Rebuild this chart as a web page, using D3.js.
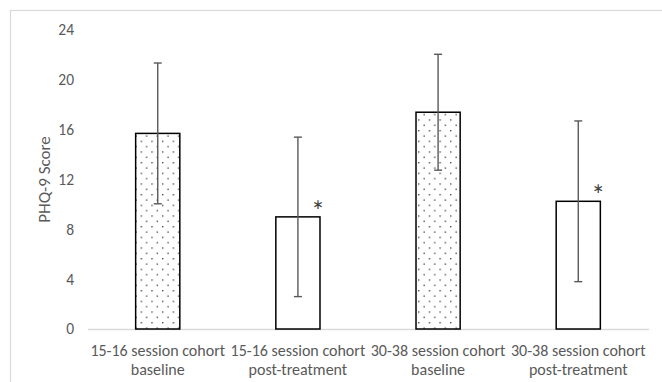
<!DOCTYPE html>
<html><head><meta charset="utf-8">
<script src="https://cdn.jsdelivr.net/npm/d3@7/dist/d3.min.js"></script>
<style>body{margin:0;background:#fff}svg{display:block}text{font-family:Carlito,Calibri,Lato,sans-serif}</style>
</head><body>
<svg id="c" width="662" height="382"></svg>
<script>
const categories = [["15-16 session cohort","baseline"],["15-16 session cohort","post-treatment"],["30-38 session cohort","baseline"],["30-38 session cohort","post-treatment"]];
const means = [15.7, 9.0, 17.4, 10.25];
const errors = [5.65, 6.4, 4.65, 6.45];
const dotted = [true, false, true, false];
const significant = [false, true, false, true];
const yTicks = [0,4,8,12,16,20,24];

const svg = d3.select("#c");
const W = 662, H = 382;
const m = {left: 88, right: 14, top: 30, bottom: 53};

svg.append("rect").attr("x",10.5).attr("y",10.5).attr("width",W).attr("height",H)
  .attr("fill","none").attr("stroke","#d9d9d9").attr("stroke-width",1.2);

const defs = svg.append("defs");
const pat = defs.append("pattern").attr("id","dots").attr("patternUnits","userSpaceOnUse")
  .attr("width",10.67).attr("height",10.67);
pat.append("rect").attr("width",10.67).attr("height",10.67).attr("fill","#fff");
pat.append("rect").attr("x",2).attr("y",2).attr("width",1.3).attr("height",1.3).attr("fill","#333");
pat.append("rect").attr("x",7.33).attr("y",7.33).attr("width",1.3).attr("height",1.3).attr("fill","#333");

const x = d3.scaleBand().domain(d3.range(categories.length)).range([m.left, W - m.right]).paddingInner(0.685).paddingOuter(0.34);
const y = d3.scaleLinear().domain([0,24]).range([H - m.bottom, m.top]);

// y tick labels
const ya = svg.append("g").attr("transform",`translate(${m.left-14},0)`)
  .call(d3.axisLeft(y).tickValues(yTicks).tickSize(0).tickPadding(0));
ya.select(".domain").remove();
ya.selectAll("text").attr("fill","#595959").style("font-size","15.5px").style("font-family","Carlito,Calibri,Lato,sans-serif");

// x axis line
svg.append("line").attr("x1",m.left).attr("x2",W-m.right+1).attr("y1",y(0)+0.5).attr("y2",y(0)+0.5)
  .attr("stroke","#d9d9d9").attr("stroke-width",1.5);

// bars
svg.selectAll(".bar").data(means).join("rect")
  .attr("x",(d,i)=>x(i)).attr("width",x.bandwidth())
  .attr("y",d=>y(d)).attr("height",d=>y(0)-y(d))
  .attr("fill",(d,i)=>dotted[i]?"url(#dots)":"#fff")
  .attr("stroke","#000").attr("stroke-width",1.5);

// error bars
const eg = svg.append("g").attr("stroke","#595959").attr("stroke-width",1.4);
means.forEach((d,i)=>{
  const cx = x(i)+x.bandwidth()/2;
  eg.append("line").attr("x1",cx).attr("x2",cx).attr("y1",y(d+errors[i])).attr("y2",y(d-errors[i]));
  [d+errors[i], d-errors[i]].forEach(v=>{
    eg.append("line").attr("x1",cx-4).attr("x2",cx+4).attr("y1",y(v)).attr("y2",y(v));
  });
});

// asterisks
svg.selectAll(".ast").data(means.map((d,i)=>({d,i})).filter(o=>significant[o.i])).join("text")
  .attr("x",o=>x(o.i)+x.bandwidth()-9).attr("y",o=>y(o.d)+4)
  .attr("fill","#404040").style("font-size","28px").text("*");

// x labels
const xl = svg.append("g");
categories.forEach((c,i)=>{
  const t = xl.append("text").attr("x",x(i)+x.bandwidth()/2).attr("y",y(0)+27)
    .attr("text-anchor","middle").attr("fill","#595959").style("font-size","16px");
  c.forEach((line,j)=>t.append("tspan").attr("x",x(i)+x.bandwidth()/2).attr("dy",j?19:0).text(line));
});

// y title
svg.append("text").attr("transform",`translate(${50},${y(12)}) rotate(-90)`)
  .attr("text-anchor","middle").attr("fill","#595959").style("font-size","17px").text("PHQ-9 Score");
</script>
</body></html>
